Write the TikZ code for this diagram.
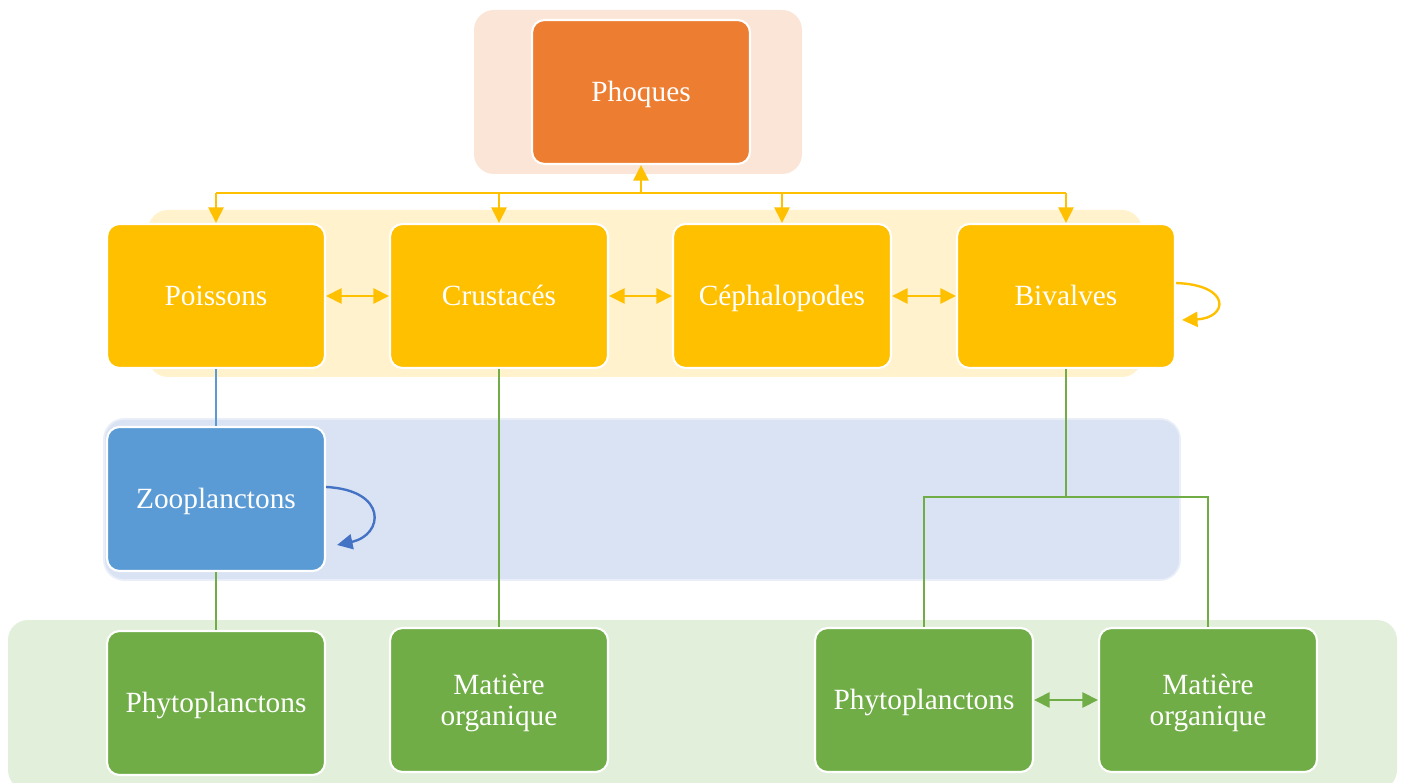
\documentclass[tikz,border=0pt]{standalone}
\usepackage{fontspec}
\setmainfont{Liberation Serif}
\usepackage{tikz}
\usetikzlibrary{arrows.meta}
\usetikzlibrary{calc}

\definecolor{orangeA}{HTML}{ED7D31}
\definecolor{orangeB}{HTML}{FBE5D6}
\definecolor{goldA}{HTML}{FFC000}
\definecolor{goldB}{HTML}{FFF2CC}
\definecolor{blueA}{HTML}{5B9BD5}
\definecolor{blueB}{HTML}{DAE3F3}
\definecolor{blueC}{HTML}{4472C4}
\definecolor{greenA}{HTML}{70AD47}
\definecolor{greenB}{HTML}{E2EFDA}

\begin{document}
\begin{tikzpicture}[x=0.02cm, y=-0.02cm,
	band/.style={rounded corners=0.4cm},
	box/.style={draw=white, line width=1.2pt, rounded corners=0.25cm, minimum width=4.36cm, minimum height=2.88cm, text=white, align=center, text height=11pt, text depth=0pt, font=\fontsize{16.7}{18}\selectfont},
	twolines/.style={text height=29.5pt},
	link/.style={line width=1.35pt},
	tip/.style={link, -{Triangle[length=0.31cm, width=0.3cm]}},
	both/.style={link, {Triangle[length=0.31cm, width=0.3cm]}-{Triangle[length=0.31cm, width=0.3cm]}}
	]
	\useasboundingbox (0,0) rectangle (1402,783);
	\fill[band, orangeB] (474,10) rectangle (802,174);
	\fill[band, goldB] (148,210) rectangle (1142,377);
	\filldraw[band, fill=blueB, draw=blueB!60!white, line width=1pt] (104,419) rectangle (1180,580);
	\fill[band, greenB] (8,620) rectangle (1397,790);

	\node[box, fill=orangeA] (phoques) at (641,92) {Phoques};
	\node[box, fill=goldA] (poissons) at (216,296) {Poissons};
	\node[box, fill=goldA] (crustaces) at (499,296) {Crustacés};
	\node[box, fill=goldA] (cephalo) at (782,296) {Céphalopodes};
	\node[box, fill=goldA] (bivalves) at (1066,296) {Bivalves};
	\node[box, fill=blueA] (zoo) at (216,499) {Zooplanctons};
	\node[box, fill=greenA] (phytoA) at (216,703) {Phytoplanctons};
	\node[box, twolines, fill=greenA] (matiereA) at (499,700) {Matière\\organique};
	\node[box, fill=greenA] (phytoB) at (924,700) {Phytoplanctons};
	\node[box, twolines, fill=greenA] (matiereB) at (1208,700) {Matière\\organique};

	\coordinate (hub) at (641,193);
	\coordinate (fork) at (1066,497);

	\draw[link, goldA] (poissons |- hub) -- (bivalves |- hub);
	\draw[tip, goldA] (hub) -- (phoques);
	\path[tip, goldA]
	(poissons |- hub) edge (poissons)
	(crustaces |- hub) edge (crustaces)
	(cephalo |- hub) edge (cephalo)
	(bivalves |- hub) edge (bivalves)
	;
	\path[both, goldA]
	(poissons) edge (crustaces)
	(crustaces) edge (cephalo)
	(cephalo) edge (bivalves)
	;
	\draw[tip, goldA] ($(bivalves.east)+(0,-13)$) .. controls (1232,285) and (1228,318) .. ($(bivalves.east)+(6,24)$);

	\draw[link, blueA] (poissons) -- (zoo);
	\draw[tip, blueC] ($(zoo.east)+(0,-12)$) .. controls (388,490) and (384,535) .. ($(zoo.east)+(11,46)$);

	\path[link, greenA]
	(zoo) edge (phytoA)
	(crustaces) edge (matiereA)
	(bivalves) edge (fork)
	;
	\draw[link, greenA] (phytoB.north) |- (fork) -| (matiereB.north);
	\draw[both, greenA] (phytoB) -- (matiereB);
\end{tikzpicture}
\end{document}
